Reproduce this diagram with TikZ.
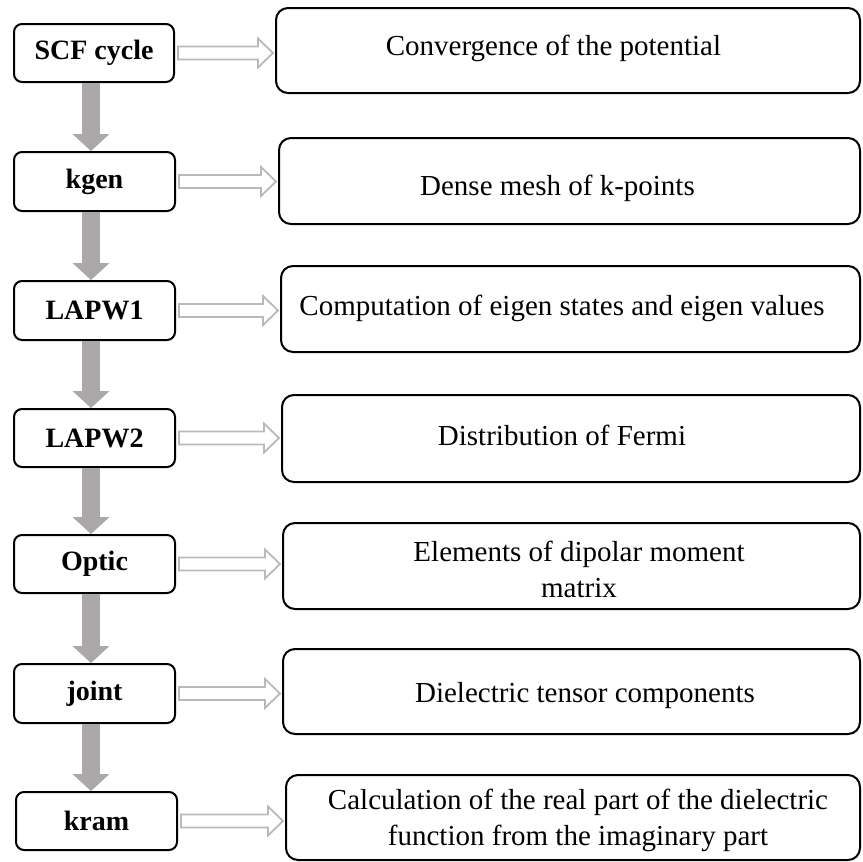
\documentclass[tikz,border=0pt]{standalone}
\usepackage{fontspec}
\setmainfont{Liberation Serif}
\usetikzlibrary{arrows.meta,calc}

\definecolor{flowgray}{RGB}{170,168,168}
\definecolor{outlinegray}{RGB}{185,185,185}

\tikzset{
  stepbox/.style={draw=black, line width=2pt, rounded corners=8pt,
    minimum width=161pt, minimum height=58pt, inner sep=0pt,
    font=\fontsize{28}{32}\selectfont\bfseries},
  infobox/.style={draw=black, line width=2pt, rounded corners=12pt, inner sep=0pt},
  infotext/.style={font=\fontsize{29}{35.5}\selectfont, inner sep=0pt,
    align=center, anchor=base},
  flowarrow/.style={draw=flowgray, line width=18pt,
    -{Triangle[width=37pt,length=17pt,line width=0pt,fill=flowgray]}},
  sidearrow/.style={draw=outlinegray, line width=1.8pt, fill=white, line join=miter},
}

% hollow block arrow from the east side of #1 to the west side of #2
\newcommand\sidelink[2]{%
  \draw[sidearrow] let \p1=($(#1.east)+(3,0)$), \p2=($(#2.west)+(-2,0)$) in
    (\x1,\y1+6.5pt) -- (\x2-15pt,\y1+6.5pt) -- (\x2-15pt,\y1+14.5pt) --
    (\x2,\y1) -- (\x2-15pt,\y1-14.5pt) -- (\x2-15pt,\y1-6.5pt) --
    (\x1,\y1-6.5pt) -- cycle;}

\begin{document}
\begin{tikzpicture}[x=1pt,y=-1pt]
\useasboundingbox (0,0) rectangle (863,862);

% program steps
\node[stepbox, minimum width=160pt] (scf)   at (94,53)     {SCF cycle};
\node[stepbox, minimum height=59pt] (kgen)  at (94.5,181.5) {kgen};
\node[stepbox, minimum height=59pt] (lapw1) at (94.5,310.5) {LAPW1};
\node[stepbox]                      (lapw2) at (94.5,438)   {LAPW2};
\node[stepbox]                      (optic) at (94.5,564)   {Optic};
\node[stepbox, minimum height=59pt] (joint) at (94.5,693.5) {joint};
\node[stepbox]                      (kram)  at (96.5,821)   {kram};

% what each step does
\node[infobox, minimum width=584pt, minimum height=85pt] (r1) at (568,50.5)  {};
\node[infobox, minimum width=581pt, minimum height=86pt] (r2) at (569.5,181) {};
\node[infobox, minimum width=579pt, minimum height=86pt] (r3) at (570.5,309) {};
\node[infobox, minimum width=578pt, minimum height=87pt] (r4) at (571,438.5) {};
\node[infobox, minimum width=577pt, minimum height=86pt] (r5) at (571.5,566) {};
\node[infobox, minimum width=577pt, minimum height=85pt] (r6) at (571.5,691.5) {};
\node[infobox, minimum width=574pt, minimum height=85pt] (r7) at (573,817.5) {};

% descriptions (base anchor sits on the last line)
\node[infotext] (t1) at (553.5,55) {Convergence of the potential};
\node[infotext] (t2) at (557.5,195) {Dense mesh of k-points};
\node[infotext] (t3) at (562,315) {Computation of eigen states and eigen values};
\node[infotext] (t4) at (562,445) {Distribution of Fermi};
\node[infotext] (t5) at (579,597) {Elements of dipolar moment\\matrix};
\node[infotext] (t6) at (585,702) {Dielectric tensor components};
\node[infotext] (t7) at (578,845) {Calculation of the real part of the dielectric\\function from the imaginary part};

% sequence of steps
\coordinate (spine) at (91,0);
\draw[flowarrow] (spine |- scf.south)   -- (spine |- kgen.north);
\draw[flowarrow] (spine |- kgen.south)  -- (spine |- lapw1.north);
\draw[flowarrow] (spine |- lapw1.south) -- (spine |- lapw2.north);
\draw[flowarrow] (spine |- lapw2.south) -- (spine |- optic.north);
\draw[flowarrow] (spine |- optic.south) -- (spine |- joint.north);
\draw[flowarrow] (spine |- joint.south) -- (spine |- kram.north);

% step to description
\sidelink{scf}{r1}
\sidelink{kgen}{r2}
\sidelink{lapw1}{r3}
\sidelink{lapw2}{r4}
\sidelink{optic}{r5}
\sidelink{joint}{r6}
\sidelink{kram}{r7}
\end{tikzpicture}
\end{document}
